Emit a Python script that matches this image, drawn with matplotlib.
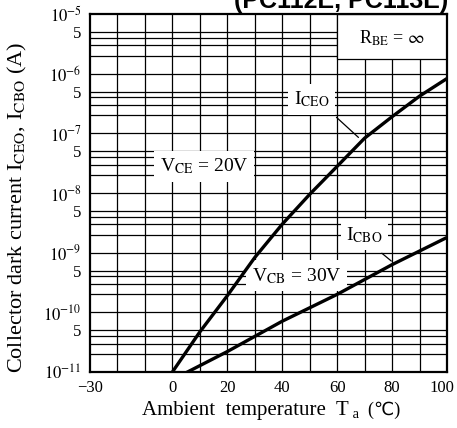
import matplotlib
matplotlib.use("Agg")
import matplotlib.pyplot as plt
import matplotlib.transforms as mtransforms
from matplotlib.patches import Rectangle

plt.rcParams['mathtext.fontset'] = 'stix'
plt.rcParams['font.family'] = ['Liberation Serif', 'DejaVu Sans']

# Data
t_ceo = [0, 10, 20, 30, 40, 50, 60, 70, 80, 90, 100]
i_ceo = [1e-11, 4.7e-11, 1.9e-10, 8.3e-10, 3.0e-9, 9.5e-9, 2.8e-8, 8.3e-8, 1.9e-7, 4.2e-7, 8.3e-7]
t_cbo = [5.5, 20, 40, 60, 80, 100]
i_cbo = [1e-11, 2.2e-11, 7.1e-11, 2.0e-10, 6.3e-10, 1.8e-9]

x_ticks = [-30, 0, 20, 40, 60, 80, 100]
x_labels = ['\u221230', '0', '20', '40', '60', '80', '100']
y_ticks = [1e-11, 5e-11, 1e-10, 5e-10, 1e-9, 5e-9, 1e-8, 5e-8, 1e-7, 5e-7, 1e-6, 5e-6, 1e-5]
y_labels = [r'$10^{-11}$', '5', r'$10^{-10}$', '5', r'$10^{-9}$', '5', r'$10^{-8}$', '5',
            r'$10^{-7}$', '5', r'$10^{-6}$', '5', r'$10^{-5}$']

fig = plt.figure(figsize=(4.57, 4.28), dpi=100)
ax = fig.add_axes([90/457, 56/428, 357/457, 358/428])
ax.set_yscale('log')
ax.set_xlim(-30, 100)
ax.set_ylim(1e-11, 1e-5)

# grid
for xv in range(-20, 100, 10):
    ax.axvline(xv, color='black', lw=0.9, zorder=1)
for e in range(-11, -5):
    for m in [1, 2, 3, 4, 5]:
        ax.axhline(m * 10.0**e, color='black', lw=0.9, zorder=1)

ax.plot(t_ceo, i_ceo, color='black', lw=2.4, zorder=4)
ax.plot(t_cbo, i_cbo, color='black', lw=2.4, zorder=4)

ax.set_xticks(x_ticks)
ax.set_xticklabels(x_labels)
ax.set_yticks(y_ticks)
ax.set_yticklabels(y_labels)
ax.minorticks_off()
ax.tick_params(length=0, labelsize=12, pad=6)
last = ax.get_xticklabels()[-1]
last.set_transform(last.get_transform() + mtransforms.ScaledTranslation(-5/100, 0, fig.dpi_scale_trans))
for s in ax.spines.values():
    s.set_linewidth(1.6)

# R_BE box
ax.add_patch(Rectangle((60, 10**-5.76), 40, 1e-5 - 10**-5.76, facecolor='white',
                       edgecolor='black', lw=0.9, zorder=2))
ax.text(80, 10**-5.4, r'R$_{\mathrm{BE}}$ = $\infty$', ha='center', va='center', fontsize=13, zorder=5)

box = dict(facecolor='white', edgecolor='none', pad=4)
ax.text(50.7, 10**-6.43, r'I$_{\mathrm{CEO}}$', ha='center', va='center', fontsize=14, bbox=box, zorder=3)
ax.text(11.5, 10**-7.55, r'V$_{\mathrm{CE}}$ = 20V', ha='center', va='center', fontsize=14, bbox=box, zorder=3)
ax.text(70, 10**-8.70, r'I$_{\mathrm{CBO}}$', ha='center', va='center', fontsize=14, bbox=box, zorder=3)
ax.text(45.3, 10**-9.39, r'V$_{\mathrm{CB}}$ = 30V', ha='center', va='center', fontsize=14, bbox=box, zorder=3)

ax.annotate('', xy=(68.5, 10**-7.1), xytext=(59, 10**-6.7),
            arrowprops=dict(arrowstyle='-', lw=0.9, color='black'), zorder=5)
ax.annotate('', xy=(80.5, 10**-9.17), xytext=(75.5, 10**-8.98),
            arrowprops=dict(arrowstyle='-', lw=0.9, color='black'), zorder=5)

# y label
fig.text(17/457, 1 - 207/428,
         r'Collector dark current I$_{\mathrm{CEO}}$, I$_{\mathrm{CBO}}$ (A)',
         fontsize=16, rotation=90, ha='center', va='center')

# x label built from pieces so the ℃ sign can use a fallback font
renderer = fig.canvas.get_renderer()
parts = [('Ambient  temperature  T', 15, 0), (' a', 10.5, -3), ('  (\u2103)', 13, 0)]
texts = []
widths = []
for s, fs, dy in parts:
    t = fig.text(0, 0, s, fontsize=fs, va='baseline', ha='left')
    texts.append(t)
    widths.append(t.get_window_extent(renderer).width)
total = sum(widths)
x0 = 271 - total / 2
base = 428 - 415
for t, w, (s, fs, dy) in zip(texts, widths, parts):
    t.set_position((x0 / 457, (base + dy) / 428))
    x0 += w

fig.text(448/457, 1 - 8/428, '(PC112E, PC113E)', ha='right', va='baseline', fontsize=18,
         fontweight='bold', family='Liberation Sans')

fig.savefig('out.png', dpi=100)
